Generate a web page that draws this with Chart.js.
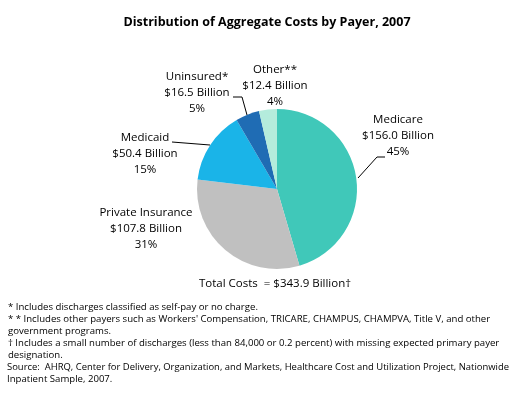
<!DOCTYPE html>
<html>
<head>
<meta charset="utf-8">
<script src="https://cdn.jsdelivr.net/npm/chart.js@4"></script>
<style>
  html, body { margin: 0; padding: 0; background: #fff; }
  #wrap { width: 525px; height: 394px; position: relative; }
</style>
</head>
<body>
<div id="wrap"><canvas id="payerChart" width="525" height="394"></canvas></div>
<script>
// data
const payers = ["Medicare", "Private Insurance", "Medicaid", "Uninsured*", "Other**"];
const costs = [156.0, 107.8, 50.4, 16.5, 12.4];       // billions of dollars
const shares = ["45%", "31%", "15%", "5%", "4%"];
const colors = ["#40c8b9", "#c0c0c0", "#1ab4e8", "#1f6cb4", "#b4ecdc"];
const totalLabel = "Total Costs  = $343.9 Billion\u2020";
const titleText = "Distribution of Aggregate Costs by Payer, 2007";
const notes = [
  "* Includes discharges classified as self-pay or no charge.",
  "* * Includes other payers such as Workers' Compensation, TRICARE, CHAMPUS, CHAMPVA, Title V, and other",
  "government programs.",
  "\u2020 Includes a small number of discharges (less than 84,000 or 0.2 percent) with missing expected primary payer",
  "designation.",
  "Source:  AHRQ, Center for Delivery, Organization, and Markets, Healthcare Cost and Utilization Project, Nationwide",
  "Inpatient Sample, 2007."
];

// label spots (text centre x, first line y) and leader lines
const labelSpots = [
  { x: 398, y: 120, line: [[385, 157], [377, 157], [358, 178]] },
  { x: 146, y: 213 },
  { x: 145, y: 138, line: [[172, 142], [210, 145]] },
  { x: 197, y: 77, line: [[233, 97], [242, 97], [247, 115]] },
  { x: 275, y: 70 }
];

const textPlugin = {
  id: "textPlugin",
  afterDraw(chart) {
    const ctx = chart.ctx;
    ctx.save();
    ctx.fillStyle = "#000";
    ctx.textBaseline = "middle";

    // title
    ctx.textAlign = "center";
    ctx.font = "bold 12.5px 'Open Sans'";
    ctx.fillText(titleText, 267, 22);

    // slice labels
    ctx.font = "11.5px 'Open Sans'";
    payers.forEach((name, i) => {
      const s = labelSpots[i];
      ctx.fillText(name, s.x, s.y);
      ctx.fillText("$" + costs[i].toFixed(1) + " Billion", s.x, s.y + 16);
      ctx.fillText(shares[i], s.x, s.y + 32);
      if (s.line) {
        ctx.beginPath();
        ctx.strokeStyle = "#000";
        ctx.lineWidth = 1;
        s.line.forEach((p, j) => j ? ctx.lineTo(p[0], p[1]) : ctx.moveTo(p[0], p[1]));
        ctx.stroke();
      }
    });
    ctx.fillText(totalLabel, 275, 284);

    // footnotes
    ctx.textAlign = "left";
    ctx.font = "9.6px 'Open Sans'";
    notes.forEach((t, i) => {
      ctx.fillText(t, i === 5 || i === 6 ? 7 : 8, 307 + i * 12, 502);
    });
    ctx.restore();
  }
};

new Chart(document.getElementById("payerChart"), {
  type: "pie",
  data: {
    labels: payers,
    datasets: [{
      data: costs,
      backgroundColor: colors,
      borderWidth: 0
    }]
  },
  options: {
    responsive: false,
    animation: false,
    layout: { padding: { top: 109, bottom: 125, left: 117, right: 88 } },
    plugins: {
      legend: { display: false },
      tooltip: { enabled: false }
    }
  },
  plugins: [textPlugin]
});
</script>
</body>
</html>
